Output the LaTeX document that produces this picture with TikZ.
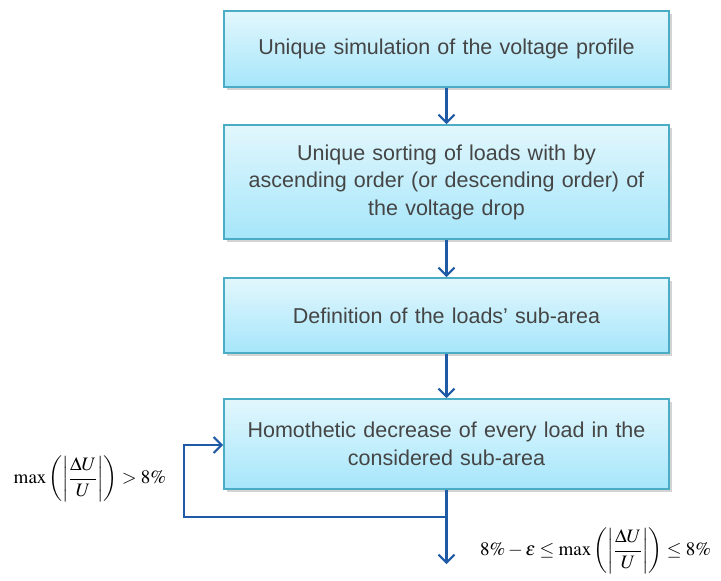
\documentclass[tikz,border=0pt]{standalone}
\usepackage{mathptmx}
\usepackage[no-math]{fontspec}
\setmainfont{Liberation Sans}
\usetikzlibrary{arrows.meta,shadows}
\definecolor{boxtop}{HTML}{E2F7FD}
\definecolor{boxbot}{HTML}{A6E6FA}
\definecolor{boxedge}{HTML}{4BACC6}
\definecolor{arrcol}{HTML}{1F5AA6}
\definecolor{txt}{HTML}{454545}
\begin{document}
\begin{tikzpicture}[x=1pt,y=-1pt,
  procbox/.style={draw=boxedge, line width=1.6pt, top color=boxtop, bottom color=boxbot,
    minimum width=445pt, text width=440pt, align=center, inner sep=0pt,
    font=\fontsize{21.5}{27.5}\selectfont, text=txt,
    drop shadow={shadow xshift=2.5pt, shadow yshift=-2.5pt, opacity=0.35, fill=gray}},
  flow/.style={draw=arrcol, line width=2.1pt, -{Straight Barb[length=8pt,width=16pt,line width=2.1pt]}},
  formula/.style={inner sep=0pt, font=\fontsize{19}{22}\selectfont}]
\useasboundingbox (0,0) rectangle (721,581);
\node[procbox, minimum height=76pt] (b1) at (446.5,49) {Unique simulation of the voltage profile};
\node[procbox, minimum height=114pt] (b2) at (446.5,182) {Unique sorting of loads with by\\ascending order (or descending order) of\\the voltage drop};
\node[procbox, minimum height=75pt] (b3) at (446.5,315.5) {Definition of the loads' sub-area};
\node[procbox, minimum height=90pt] (b4) at (446.5,444) {Homothetic decrease of every load in the\\considered sub-area};
\draw[flow] (b1.south) -- (b2.north);
\draw[flow] (b2.south) -- (b3.north);
\draw[flow] (b3.south) -- (b4.north);
\coordinate (j) at (446.5,517);
\coordinate (endp) at (446.5,564);
\coordinate (lc) at (184,517);
\coordinate (lt) at (184,445);
\draw[flow] (b4.south) -- (endp);
\draw[flow] (j) -- (lc) -- (lt) -- (lt -| b4.west);
\node[formula] (f1) at (90,479) {$\displaystyle\max\left(\left|\frac{\Delta U}{U}\right|\right) > 8\%$};
\node[formula, anchor=west] (f2) at (480,551) {$\displaystyle 8\% - \varepsilon \le \max\left(\left|\frac{\Delta U}{U}\right|\right) \le 8\%$};
\end{tikzpicture}
\end{document}
